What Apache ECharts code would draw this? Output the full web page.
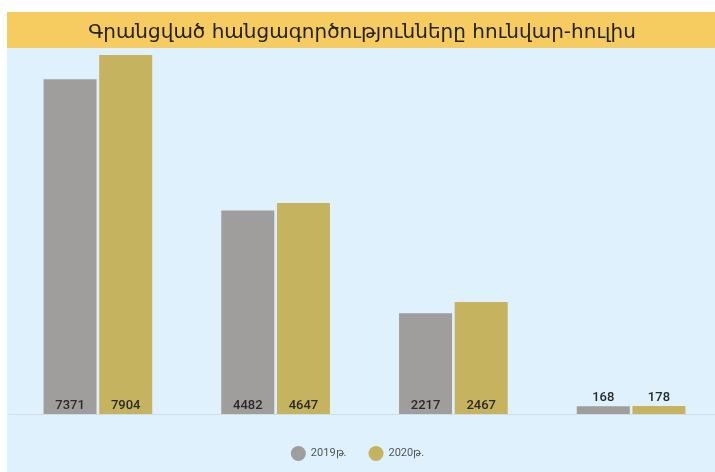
<!DOCTYPE html>
<html><head><meta charset="utf-8">
<script src="https://cdn.jsdelivr.net/npm/echarts@6/dist/echarts.min.js"></script>
<style>html,body{margin:0;padding:0;background:#fff}#c{width:715px;height:472px}</style>
</head><body><div id="c"></div>
<script>
const categories = ['A', 'B', 'C', 'D'];
const seriesNames = ['2019թ.', '2020թ.'];
const values2019 = [7371, 4482, 2217, 168];
const values2020 = [7904, 4647, 2467, 178];
const titleText = 'Գրանցված հանցագործությունները հունվար-հուլիս';
const colors = ['#A09E9D', '#C5B35F'];

function toData(arr) {
  return arr.map(v => ({
    value: v,
    label: v < 1000 ? { position: 'top', distance: 2 } : { position: 'insideBottom', distance: 2 }
  }));
}

const chart = echarts.init(document.getElementById('c'));
chart.setOption({
  animation: false,
  graphic: [
    { type: 'rect', left: 7, top: 48, shape: { width: 708, height: 424 }, style: { fill: '#DEF1FC' }, z: -10 },
    { type: 'rect', left: 7, top: 12, shape: { width: 708, height: 36 }, style: { fill: '#F6CB5F' }, z: -10 }
  ],
  title: {
    text: titleText, left: 357, top: 18, textAlign: 'center',
    textStyle: { fontFamily: 'DejaVu Sans', fontSize: 20, fontWeight: 'normal', color: '#222' }
  },
  legend: {
    data: seriesNames, left: 'center', top: 441, icon: 'circle', itemWidth: 15, itemHeight: 15, itemGap: 22,
    textStyle: { fontFamily: 'Roboto', fontSize: 11, color: '#555' }
  },
  grid: { left: 9, width: 711, top: 55, bottom: 58, containLabel: false, outerBoundsMode: 'none' },
  xAxis: {
    type: 'category', data: categories,
    axisLine: { lineStyle: { color: '#CFDDE6', width: 1 } },
    axisTick: { show: false }, axisLabel: { show: false }
  },
  yAxis: {
    type: 'value', min: 0, max: 7904, show: false, splitLine: { show: false }
  },
  series: [
    { name: seriesNames[0], type: 'bar', data: toData(values2019), barWidth: 53, barGap: '5%', itemStyle: { color: colors[0] },
      label: { show: true, fontFamily: 'Roboto', fontSize: 13, fontWeight: 500, color: '#2a2a2a' } },
    { name: seriesNames[1], type: 'bar', data: toData(values2020), barWidth: 53, barGap: '5%', itemStyle: { color: colors[1] },
      label: { show: true, fontFamily: 'Roboto', fontSize: 13, fontWeight: 500, color: '#2a2a2a' } }
  ]
});
</script></body></html>
